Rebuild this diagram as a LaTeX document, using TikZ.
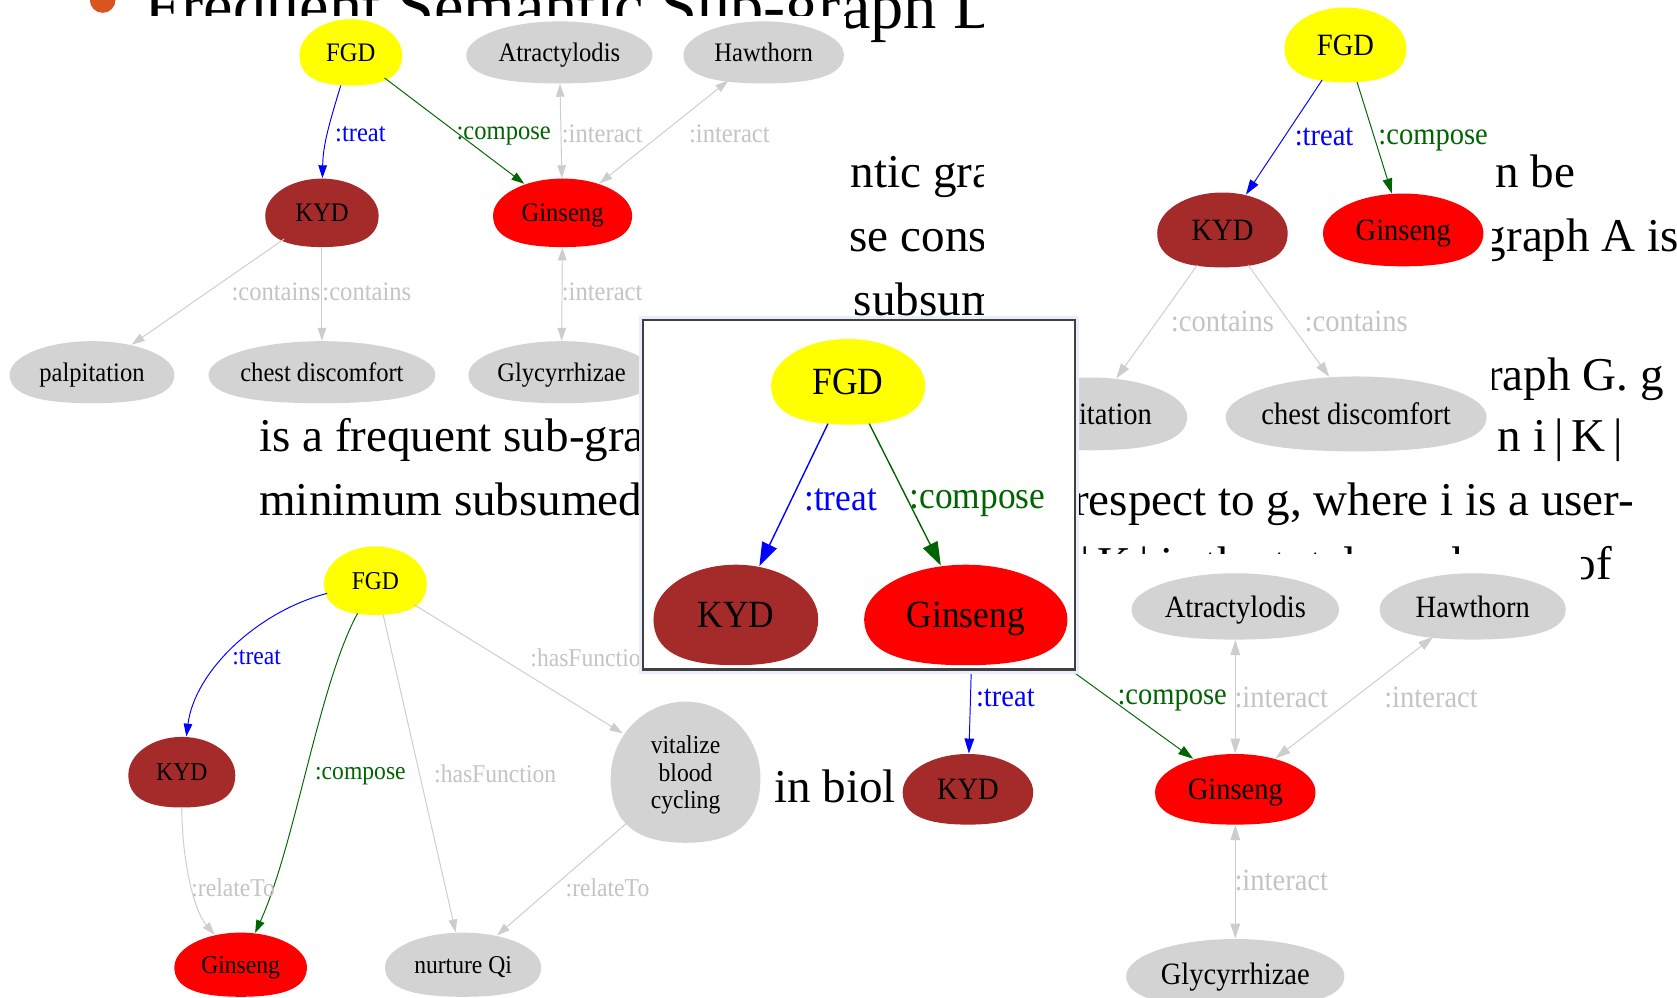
\documentclass[tikz,border=0pt]{standalone}
\usepackage{fontspec}
\setmainfont{Liberation Serif}
\newfontfamily\gvfont[FakeStretch=0.92]{Liberation Serif}
\usetikzlibrary{arrows.meta,shapes.geometric}

\definecolor{gvyellow}{RGB}{255,255,0}
\definecolor{gvbrown}{RGB}{165,42,42}
\definecolor{gvred}{RGB}{255,0,0}
\definecolor{gvgray}{RGB}{211,211,211}
\definecolor{gvline}{RGB}{205,205,205}
\definecolor{gvlbl}{RGB}{196,196,196}
\definecolor{gvgreen}{RGB}{0,100,0}
\definecolor{gvblue}{RGB}{0,0,255}
\definecolor{bulletorange}{RGB}{217,84,30}
\definecolor{frameblue}{RGB}{232,238,250}
\definecolor{framegray}{RGB}{64,64,64}

% egg-shaped graph node: name, x, y, rx, ry, fill colour, label
\newcommand{\eggnode}[7]{%
  \fill[#6, shift={(#2,#3)}, xscale=#4, yscale=#5]
    (0,-1) .. controls (0.56,-1) and (1,-0.5) .. (1,0.08)
    .. controls (1,0.74) and (0.64,1) .. (0,1)
    .. controls (-0.64,1) and (-1,0.74) .. (-1,0.08)
    .. controls (-1,-0.5) and (-0.56,-1) .. (0,-1) -- cycle;
  \node[eggtext, minimum width=#4*2pt, minimum height=#5*2pt] (#1) at (#2,#3) {#7};
}

\tikzset{
  eggtext/.style={shape=ellipse, inner sep=0pt, align=center, text=black, text depth=0pt, gvsize},
  lbl/.style={inner sep=0pt, text depth=0pt, gvsize},
  treatlbl/.style={lbl, text=gvblue},
  composelbl/.style={lbl, text=gvgreen},
  rellbl/.style={lbl, text=gvlbl},
  treat/.style={draw=gvblue, ->},
  compose/.style={draw=gvgreen, ->},
  rel/.style={draw=gvline, ->},
  mutual/.style={draw=gvline, <->},
  slidetext/.style={inner sep=0pt, anchor=base west, font=\fontsize{44}{52}\selectfont},
  imagebg/.style={fill=white},
}

\begin{document}
\begin{tikzpicture}[x=1pt, y=-1pt, line width=0.9pt]
\useasboundingbox (0,0) rectangle (1568,933);
\fill[white] (0,0) rectangle (1568,933);

% ---------- slide text underneath the graph images ----------
\fill[bulletorange] (96,0) circle (12pt);
\node[inner sep=0pt, anchor=base west, font=\fontsize{62}{70}\selectfont] (title) at (135,27) {Frequent Semantic Sub-graph D};
\node[slidetext] (t1a) at (795,175) {ntic graph};
\node[slidetext] (t1b) at (1398,175) {n be};
\node[slidetext] (t2a) at (794,235) {se const};
\node[slidetext] (t2b) at (1386,235) {graph A is};
\node[slidetext] (t3a) at (798,295) {subsum};
\node[slidetext] (t4b) at (1390,365) {raph G. g};
\node[slidetext] (t5a) at (242,422) {is a frequent sub-graph};
\node[slidetext] (t5b) at (1400,422) {n i\,|\,K\,|};
\node[slidetext] (t6a) at (242,482) {minimum subsumed};
\node[slidetext] (t6b) at (1003,482) {respect to g, where i is a user-};
\node[slidetext] (t7a) at (1010,542) {|\,K\,| is the total number};
\node[slidetext] (t7b) at (1470,542) {of};
\node[slidetext, anchor=base east] (t9a) at (838,750) {n in biol};

% ---------- top-left graph ----------
\fill[imagebg] (0,15) rectangle (791,386);
\begin{scope}[gvsize/.style={font=\gvfont\fontsize{25}{28}\selectfont},
              >={Triangle[length=12pt,width=8pt]}]
  \eggnode{tlFGD}{328}{49}{48}{31}{gvyellow}{FGD}
  \eggnode{tlAtr}{523}{49}{87}{29}{gvgray}{Atractylodis}
  \eggnode{tlHaw}{714}{49}{75}{29}{gvgray}{Hawthorn}
  \eggnode{tlKYD}{301}{199}{53}{32}{gvbrown}{KYD}
  \eggnode{tlGin}{526}{199}{65}{32}{gvred}{Ginseng}
  \eggnode{tlPal}{86}{348}{77}{29}{gvgray}{palpitation}
  \eggnode{tlChe}{301}{348}{106}{29}{gvgray}{chest discomfort}
  \eggnode{tlGly}{525}{348}{87}{29}{gvgray}{Glycyrrhizae}
  \draw[treat] (tlFGD) .. controls (308,115) and (302,135) .. (tlKYD);
  \draw[compose] (tlFGD) -- (tlGin);
  \draw[mutual] (tlAtr) -- (tlGin);
  \draw[mutual] (tlHaw) -- (tlGin);
  \draw[rel] (tlKYD) -- (tlPal);
  \draw[rel] (tlKYD) -- (tlChe);
  \draw[mutual] (tlGin) -- (tlGly);
  \node[treatlbl] (tlL1) at (337,125) {:treat};
  \node[composelbl] (tlL2) at (471,125) {:compose};
  \node[rellbl] (tlL3) at (563,125) {:interact};
  \node[rellbl] (tlL4) at (682,125) {:interact};
  \node[rellbl] (tlL5) at (258,273) {:contains};
  \node[rellbl] (tlL6) at (343,273) {:contains};
  \node[rellbl] (tlL7) at (563,273) {:interact};
\end{scope}

% ---------- top-right graph ----------
\fill[imagebg] (920,-1) rectangle (1395,430);
\begin{scope}[gvsize/.style={font=\gvfont\fontsize{29}{32}\selectfont},
              >={Triangle[length=14pt,width=9pt]}]
  \eggnode{trFGD}{1258}{42}{57}{35}{gvyellow}{FGD}
  \eggnode{trKYD}{1143}{215}{61}{35}{gvbrown}{KYD}
  \eggnode{trGin}{1312}{215}{75}{34}{gvred}{Ginseng}
  \eggnode{trPal}{1020}{387}{90}{34}{gvgray}{palpitation}
  \eggnode{trChe}{1268}{387}{122}{35}{gvgray}{chest discomfort}
  \draw[treat] (trFGD) -- (trKYD);
  \draw[compose] (trFGD) -- (trGin);
  \draw[rel] (trKYD) -- (trPal);
  \draw[rel] (trKYD) -- (trChe);
  \node[treatlbl] (trL1) at (1238,128) {:treat};
  \node[composelbl] (trL2) at (1340,128) {:compose};
  \node[rellbl] (trL3) at (1143,300) {:contains};
  \node[rellbl] (trL4) at (1268,300) {:contains};
\end{scope}

% ---------- bottom-left graph ----------
\fill[imagebg] (0,498) rectangle (712,934);
\begin{scope}[gvsize/.style={font=\gvfont\fontsize{24}{26}\selectfont},
              >={Triangle[length=12pt,width=8pt]}]
  \eggnode{blFGD}{351}{543}{48}{32}{gvyellow}{FGD}
  \eggnode{blKYD}{170}{722}{50}{33}{gvbrown}{KYD}
  \eggnode{blVit}{641}{722}{70}{66}{gvgray}{vitalize\\blood\\cycling}
  \eggnode{blGin}{225}{902}{62}{30}{gvred}{Ginseng}
  \eggnode{blNur}{433}{902}{73}{30}{gvgray}{nurture Qi}
  \draw[treat] (blFGD) .. controls (240,572) and (182,628) .. (blKYD);
  \draw[compose] (blFGD) .. controls (298,640) and (276,790) .. (blGin);
  \draw[rel] (blFGD) -- (blNur);
  \draw[rel] (blFGD) -- (blVit);
  \draw[rel] (blKYD) .. controls (170,800) and (180,850) .. (blGin);
  \draw[rel] (blVit) -- (blNur);
  \node[treatlbl] (blL1) at (240,615) {:treat};
  \node[composelbl] (blL2) at (337,723) {:compose};
  \node[rellbl] (blL3) at (463,723) {:hasFunction};
  \node[rellbl] (blL4) at (553,615) {:hasFunction};
  \node[rellbl] (blL5) at (218,830) {:relateTo};
  \node[rellbl] (blL6) at (568,830) {:relateTo};
\end{scope}

% ---------- bottom-right graph ----------
\fill[imagebg] (838,518) rectangle (1478,934);
\begin{scope}[gvsize/.style={font=\gvfont\fontsize{29}{32}\selectfont},
              >={Triangle[length=14pt,width=9pt]}]
  \coordinate (brFGDa) at (910,560);
  \coordinate (brFGDb) at (930,575);
  \eggnode{brKYD}{905}{738}{61}{33}{gvbrown}{KYD}
  \eggnode{brGin}{1155}{738}{75}{33}{gvred}{Ginseng}
  \eggnode{brAtr}{1155}{567}{97}{31}{gvgray}{Atractylodis}
  \eggnode{brHaw}{1377}{567}{87}{31}{gvgray}{Hawthorn}
  \eggnode{brGly}{1155}{910}{102}{32}{gvgray}{Glycyrrhizae}
  \draw[treat] (brFGDa) -- (brKYD);
  \draw[compose] (brFGDb) -- (brGin);
  \draw[mutual] (brAtr) -- (brGin);
  \draw[mutual] (brHaw) -- (brGin);
  \draw[mutual] (brGin) -- (brGly);
  \node[treatlbl] (brL1) at (940,652) {:treat};
  \node[composelbl] (brL2) at (1096,652) {:compose};
  \node[rellbl] (brL3) at (1198,652) {:interact};
  \node[rellbl] (brL4) at (1338,652) {:interact};
  \node[rellbl] (brL5) at (1198,823) {:interact};
\end{scope}

% ---------- framed sub-graph in front ----------
\fill[frameblue] (597,295) rectangle (1009,630);
\filldraw[fill=white, draw=framegray, line width=2.2pt] (601,299) rectangle (1005,626);
\begin{scope}[gvsize/.style={font=\gvfont\fontsize{36}{40}\selectfont},
              >={Triangle[length=22pt,width=15pt]}, line width=1.3pt]
  \eggnode{cFGD}{793}{357}{72}{40}{gvyellow}{FGD}
  \eggnode{cKYD}{688}{575}{77}{47}{gvbrown}{KYD}
  \eggnode{cGin}{903}{575}{95}{47}{gvred}{Ginseng}
  \draw[treat] (cFGD) -- (cKYD);
  \draw[compose] (cFGD) -- (cGin);
  \node[treatlbl] (cL1) at (786,467) {:treat};
  \node[composelbl] (cL2) at (914,467) {:compose};
\end{scope}
\end{tikzpicture}
\end{document}
